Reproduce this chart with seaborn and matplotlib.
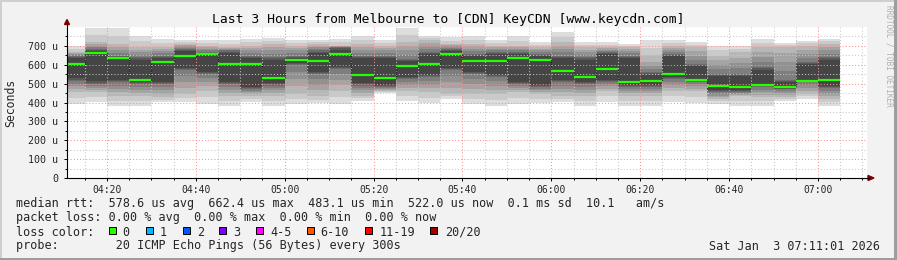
import matplotlib
matplotlib.use("Agg")
import matplotlib.pyplot as plt
from matplotlib.lines import Line2D
from matplotlib.patches import Rectangle, Polygon
import numpy as np
import pandas as pd
import seaborn as sns

# ---------------- data ----------------
title = "Last 3 Hours from Melbourne to [CDN] KeyCDN [www.keycdn.com]"

bar_start = ["04:10", "04:15", "04:20", "04:25", "04:30", "04:35", "04:40",
             "04:45", "04:50", "04:55", "05:00", "05:05", "05:10", "05:15",
             "05:20", "05:25", "05:30", "05:35", "05:40", "05:45", "05:50",
             "05:55", "06:00", "06:05", "06:10", "06:15", "06:20", "06:25",
             "06:30", "06:35", "06:40", "06:45", "06:50", "06:55", "07:00"]

median_us = [606, 665, 636, 520, 617, 649, 659, 605, 605, 532, 627, 620,
             659, 548, 532, 594, 606, 659, 620, 620, 638, 626, 569, 536,
             580, 511, 516, 553, 521, 490, 483, 495, 484, 516, 521]

# 20 sorted ping times (microseconds) per 5-minute step, estimated from the smoke
pings_us = [
    [393, 424, 455, 470, 485, 500, 516, 522, 528, 603, 609, 637, 643, 649, 654, 658, 662, 667, 685, 702],
    [402, 428, 455, 466, 478, 489, 500, 506, 512, 662, 668, 674, 679, 685, 694, 702, 711, 720, 758, 796],
    [384, 410, 437, 455, 472, 490, 508, 514, 520, 633, 639, 642, 646, 649, 665, 680, 696, 711, 753, 796],
    [384, 410, 437, 452, 468, 483, 499, 505, 511, 517, 523, 628, 634, 640, 653, 666, 680, 693, 724, 755],
    [402, 415, 428, 446, 464, 481, 499, 505, 511, 614, 620, 637, 643, 649, 660, 671, 682, 693, 715, 737],
    [402, 424, 446, 477, 508, 539, 570, 576, 582, 646, 652, 672, 678, 684, 691, 698, 704, 711, 721, 732],
    [393, 428, 463, 485, 508, 530, 552, 558, 564, 656, 662, 664, 665, 667, 676, 684, 693, 702, 715, 729],
    [384, 410, 437, 452, 468, 483, 499, 505, 511, 602, 608, 664, 670, 676, 680, 684, 689, 693, 711, 729],
    [402, 420, 437, 446, 455, 463, 472, 478, 484, 602, 608, 637, 643, 649, 662, 676, 689, 702, 720, 737],
    [384, 410, 437, 450, 464, 477, 490, 496, 502, 529, 535, 628, 634, 640, 658, 676, 693, 711, 727, 743],
    [393, 420, 446, 485, 523, 562, 600, 606, 612, 624, 630, 637, 643, 649, 662, 676, 689, 702, 715, 729],
    [396, 416, 437, 466, 494, 523, 552, 558, 564, 617, 623, 664, 670, 676, 685, 694, 702, 711, 720, 729],
    [393, 428, 463, 492, 520, 549, 578, 584, 590, 656, 662, 681, 687, 693, 695, 698, 700, 702, 720, 737],
    [410, 424, 437, 450, 464, 477, 490, 496, 502, 545, 551, 637, 643, 649, 665, 680, 696, 711, 733, 755],
    [450, 456, 463, 467, 472, 476, 481, 487, 493, 529, 535, 637, 643, 649, 662, 676, 689, 702, 715, 729],
    [410, 436, 463, 478, 494, 509, 525, 531, 537, 591, 597, 619, 625, 631, 653, 676, 698, 720, 758, 796],
    [396, 426, 455, 475, 494, 514, 534, 540, 546, 603, 609, 655, 661, 667, 682, 698, 713, 729, 742, 755],
    [419, 432, 446, 477, 508, 539, 570, 576, 582, 656, 662, 672, 678, 684, 691, 698, 704, 711, 728, 746],
    [393, 420, 446, 472, 499, 525, 552, 558, 564, 617, 623, 646, 652, 658, 671, 684, 698, 711, 733, 755],
    [384, 415, 446, 468, 490, 512, 534, 540, 546, 617, 623, 655, 661, 667, 676, 684, 693, 702, 715, 729],
    [393, 424, 455, 466, 477, 488, 499, 505, 511, 635, 641, 655, 661, 667, 676, 684, 693, 702, 726, 750],
    [396, 421, 446, 455, 464, 472, 481, 487, 493, 623, 629, 646, 652, 658, 667, 676, 684, 693, 706, 720],
    [402, 420, 437, 455, 472, 490, 508, 514, 520, 566, 572, 637, 643, 649, 667, 685, 702, 720, 746, 773],
    [384, 410, 437, 452, 468, 483, 499, 505, 511, 533, 539, 628, 634, 640, 653, 666, 680, 693, 706, 720],
    [402, 432, 463, 474, 486, 497, 508, 514, 520, 577, 583, 655, 661, 667, 674, 680, 687, 693, 706, 720],
    [384, 410, 437, 448, 459, 470, 481, 487, 493, 508, 514, 637, 643, 649, 660, 671, 682, 693, 702, 711],
    [384, 410, 437, 448, 459, 470, 481, 487, 493, 513, 519, 548, 554, 560, 578, 596, 614, 650, 691, 732],
    [402, 432, 463, 478, 494, 509, 525, 531, 537, 550, 556, 646, 652, 658, 669, 680, 691, 702, 715, 729],
    [396, 430, 463, 474, 486, 497, 508, 512, 515, 518, 524, 593, 599, 605, 627, 649, 671, 693, 706, 720],
    [393, 406, 419, 428, 437, 446, 455, 461, 467, 487, 493, 540, 546, 552, 576, 600, 625, 649, 676, 702],
    [384, 410, 437, 442, 446, 450, 455, 461, 467, 480, 486, 540, 546, 552, 581, 610, 638, 667, 685, 702],
    [384, 406, 428, 441, 454, 468, 481, 485, 488, 492, 498, 575, 581, 587, 614, 640, 667, 693, 715, 737],
    [410, 419, 428, 439, 449, 460, 470, 474, 477, 481, 487, 508, 514, 520, 567, 613, 660, 693, 704, 714],
    [419, 432, 446, 462, 477, 493, 508, 510, 512, 514, 519, 602, 608, 614, 636, 658, 680, 702, 714, 725],
    [384, 402, 419, 433, 447, 461, 475, 481, 487, 518, 524, 628, 634, 640, 658, 676, 693, 711, 724, 737],
]

x_tick_labels = ["04:20", "04:40", "05:00", "05:20", "05:40", "06:00", "06:20", "06:40", "07:00"]
y_tick_values = [0, 100, 200, 300, 400, 500, 600, 700]
y_tick_labels = ["0", "100 u", "200 u", "300 u", "400 u", "500 u", "600 u", "700 u"]
window_start = "04:11:01"
window_end = "07:11:01"

stat_lines = [
    "median rtt:  578.6 us avg  662.4 us max  483.1 us min  522.0 us now  0.1 ms sd  10.1   am/s",
    "packet loss: 0.00 % avg  0.00 % max  0.00 % min  0.00 % now",
]
loss_title = "loss color:"
loss_labels = ["0", "1", "2", "3", "4-5", "6-10", "11-19", "20/20"]
loss_colors = ["#26ff00", "#00b8ff", "#0059ff", "#7e00ff", "#ff00ff", "#ff5500", "#ff0000", "#a10000"]
probe_text = "probe:        20 ICMP Echo Pings (56 Bytes) every 300s"
date_text = "Sat Jan  3 07:11:01 2026"
watermark = "RRDTOOL / TOBI OETIKER"

# ---------------- helpers ----------------
def to_min(s):
    parts = [int(p) for p in s.split(":")]
    return parts[0] * 60 + parts[1] + (parts[2] / 60 if len(parts) > 2 else 0)

W, H = 897, 260
def fx(px):
    return px / W
def fy(py):
    return 1 - py / H

sns.set_style("white")
plt.rcParams["font.family"] = ["DejaVu Sans Mono", "DejaVu Sans"]

fig = plt.figure(figsize=(W / 100, H / 100), dpi=100, facecolor="#f2f2f2")

# plot area in pixels
L, R, T, B = 67, 867, 26.5, 178
ax = fig.add_axes([fx(L), fy(B), (R - L) / W, (B - T) / H])
ax.set_facecolor("white")

# ---------------- smoke ----------------
n_pings = 20
half = n_pings // 2
rows = []
for start, pl in zip(bar_start, pings_us):
    for i in range(half):
        rows.append(dict(start=to_min(start), layer=i + 1, lo=pl[i], hi=pl[n_pings - 1 - i]))
smoke = pd.DataFrame(rows)
for layer, grp in smoke.groupby("layer"):
    g = int(190 / half * (half - layer)) + 50
    col = "#%02x%02x%02x" % (g, g, g)
    ax.bar(grp["start"], grp["hi"] - grp["lo"], bottom=grp["lo"], width=5,
           align="edge", color=col, linewidth=0, zorder=1)

# ---------------- median ----------------
med = pd.DataFrame({"t": [to_min(s) for s in bar_start], "median": median_us})
med_step = pd.concat([med, pd.DataFrame({"t": [med["t"].iloc[-1] + 5],
                                         "median": [med["median"].iloc[-1]]})])
sns.lineplot(data=med_step, x="t", y="median", drawstyle="steps-post",
             color="#202020", linestyle=(0, (1, 1)), linewidth=0.8, ax=ax,
             zorder=3, estimator=None)
ax.hlines(med["median"], med["t"], med["t"] + 5, color=loss_colors[0],
          linewidth=1.6, zorder=4)

# ---------------- axes / grid ----------------
ax.set_xlim(to_min(window_start), to_min(window_end))
ax.set_ylim(0, 803)
major_x = [to_min(s) for s in x_tick_labels]
ax.set_xticks(major_x)
ax.set_xticklabels(x_tick_labels)
ax.set_xticks(np.arange(255, 431, 5), minor=True)
ax.set_yticks(y_tick_values)
ax.set_yticklabels(y_tick_labels)
ax.set_yticks([50, 150, 250, 350, 450, 550, 650, 750], minor=True)
ax.set_xlabel("")
ax.set_ylabel("")
ax.set_axisbelow(False)
ax.grid(which="minor", color="#c8c8c8", linestyle=(0, (1, 2)), linewidth=0.75, zorder=5)
ax.grid(which="major", color="#ff8f8f", linestyle=(0, (1, 2)), linewidth=0.75, zorder=5)
for sp in ax.spines.values():
    sp.set_visible(False)
ax.tick_params(axis="both", which="major", labelsize=7, length=2.5, width=0.7,
               color="black", pad=3.5)
ax.tick_params(axis="both", which="minor", length=1.5, width=0.7, color="black")
ax.tick_params(axis="y", labelsize=7.2, pad=4)
ax.tick_params(axis="x", pad=2.5)
ax.tick_params(left=True, bottom=True, which="both")

# axis lines with arrows
fig.add_artist(Line2D([fx(L), fx(869)], [fy(B), fy(B)], color="black", linewidth=0.8))
fig.add_artist(Line2D([fx(L), fx(L)], [fy(B), fy(23)], color="black", linewidth=0.8))
fig.add_artist(Polygon([[fx(868), fy(175.5)], [fx(868), fy(180.5)], [fx(874), fy(178)]],
                       closed=True, color="#7f0000", transform=fig.transFigure))
fig.add_artist(Polygon([[fx(64.5), fy(24.5)], [fx(69.5), fy(24.5)], [fx(67), fy(19.5)]],
                       closed=True, color="#7f0000", transform=fig.transFigure))

# ---------------- texts ----------------
fig.text(fx(448), fy(19.5), title, ha="center", va="center", fontsize=9.4, color="black")
fig.text(fx(11), fy(103), "Seconds", rotation=90, ha="center", va="center", fontsize=8.3)
fig.text(fx(888.5), fy(5), watermark, rotation=270, ha="center", va="top",
         fontsize=5.6, color="#b0b0b0")

fig.text(fx(16), fy(204), stat_lines[0], va="center", ha="left", fontsize=8.5)
fig.text(fx(16), fy(218), stat_lines[1], va="center", ha="left", fontsize=8.5)
fig.text(fx(16), fy(232), loss_title, va="center", ha="left", fontsize=8.5)
sq_x = [109.3, 145.5, 182.7, 219.3, 256.0, 306.7, 365.0, 430.0]
lab_x = [122.7, 159.3, 196.7, 233.3, 270.7, 320.7, 379.3, 445.0]
for sx, lx, lab, col in zip(sq_x, lab_x, loss_labels, loss_colors):
    fig.add_artist(Rectangle((fx(sx), fy(233.5)), 7 / W, 7 / H, facecolor=col,
                             edgecolor="black", linewidth=0.7, transform=fig.transFigure))
    fig.text(fx(lx), fy(232), lab, va="center", ha="left", fontsize=8.5)
fig.text(fx(16), fy(246), probe_text, va="center", ha="left", fontsize=8.5)
fig.text(fx(880), fy(246), date_text, va="center", ha="right", fontsize=8.5)

# 3D frame
fig.add_artist(Rectangle((0, 0), 1, 2 / H, facecolor="#9e9e9e", edgecolor="none", transform=fig.transFigure))
fig.add_artist(Rectangle((1 - 3 / W, 0), 3 / W, 1, facecolor="#9e9e9e", edgecolor="none", transform=fig.transFigure))
fig.add_artist(Rectangle((0, 1 - 2 / H), 1 - 3 / W, 2 / H, facecolor="#cfcfcf", edgecolor="none", transform=fig.transFigure))
fig.add_artist(Rectangle((0, 2 / H), 2 / W, 1 - 4 / H, facecolor="#cfcfcf", edgecolor="none", transform=fig.transFigure))

fig.savefig("out.png", dpi=100, facecolor=fig.get_facecolor())
